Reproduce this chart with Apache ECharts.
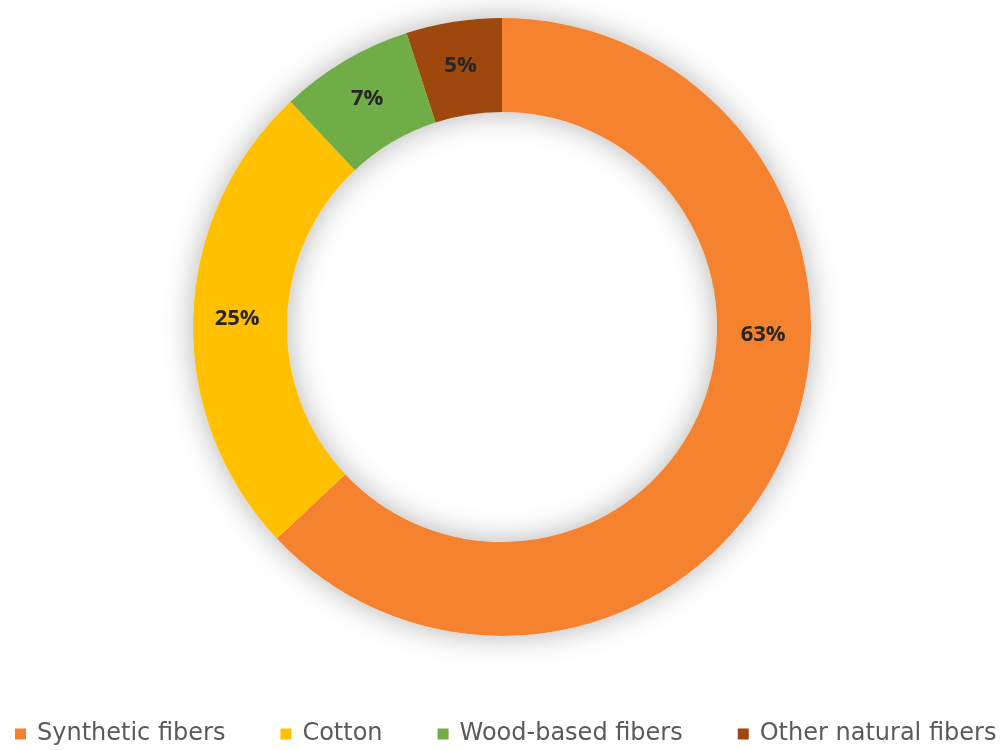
<!DOCTYPE html>
<html>
<head>
<meta charset="utf-8">
<script src="https://cdn.jsdelivr.net/npm/echarts@6/dist/echarts.min.js"></script>
<style>
  html, body { margin: 0; padding: 0; background: #fff; }
  #chart { width: 1003px; height: 750px; }
</style>
</head>
<body>
<div id="chart"></div>
<script>
const categories = ['Synthetic fibers', 'Cotton', 'Wood-based fibers', 'Other natural fibers']
const shares = [63, 25, 7, 5]
const colors = ['#F5822F', '#FFC000', '#70AD47', '#9E480E']

const chart = echarts.init(document.getElementById('chart'))

chart.setOption({
  animation: false,
  legend: {
    bottom: -1,
    left: 10,
    icon: 'rect',
    itemWidth: 11,
    itemHeight: 11,
    itemGap: 55,
    textStyle: { color: '#5a5a5a', fontSize: 24, fontFamily: 'DejaVu Sans', padding: [0, 0, 0, 6] },
    data: categories,
  },
  series: [
    {
      type: 'pie',
      silent: true,
      center: [502, 327],
      radius: [215, 309],
      label: { show: false },
      itemStyle: { color: '#fff', shadowBlur: 30, shadowColor: 'rgba(0,0,0,0.3)' },
      data: [{ value: 1, name: '' }],
      legendHoverLink: false,
    },
    {
      type: 'pie',
      center: [502, 327],
      radius: [215, 309],
      startAngle: 90,
      clockwise: true,
      label: {
        show: true,
        position: 'inside',
        formatter: '{c}%',
        color: '#262626',
        fontWeight: 'bold',
        fontSize: 22,
        fontFamily: 'Open Sans',
      },
      labelLine: { show: false },
      data: categories.map((name, i) => ({
        name,
        value: shares[i],
        itemStyle: { color: colors[i] },
        // Excel parks the big slice's label on the right-hand side
        label: i === 0 ? { offset: [18, -98] } : undefined,
      })),
    },
  ],
})
</script>
</body>
</html>
